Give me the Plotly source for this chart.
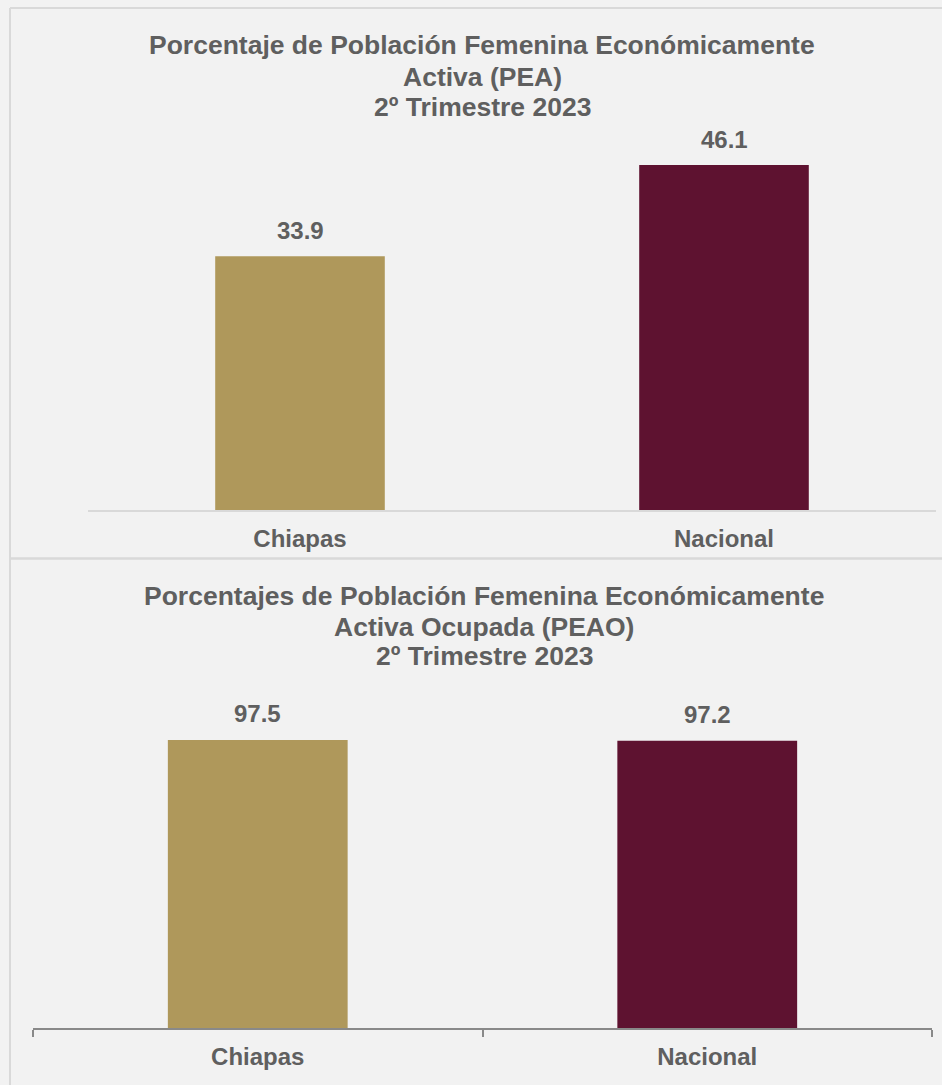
import plotly.graph_objects as go

W, H = 942, 1085

categories = ["Chiapas", "Nacional"]
pea_values = [33.9, 46.1]
peao_values = [97.5, 97.2]
colors = ["#AF985B", "#5E1230"]

title_top_lines = ["Porcentaje de Población Femenina Económicamente", "Activa (PEA)", "2º Trimestre 2023"]
title_bottom_lines = ["Porcentajes de Población Femenina Económicamente", "Activa Ocupada (PEAO)", "2º Trimestre 2023"]

TXT = "#5F5F5F"
FONT = "Liberation Sans, Arial, sans-serif"


def px(x):
    return x / W


def py(y):
    return 1 - y / H


fig = go.Figure()
fig.add_trace(go.Bar(x=categories, y=pea_values, marker_color=colors, width=0.4,
                     marker_line_width=0,
                     xaxis="x", yaxis="y", hoverinfo="x+y", showlegend=False))
fig.add_trace(go.Bar(x=categories, y=peao_values, marker_color=colors, width=0.4,
                     marker_line_width=0,
                     xaxis="x2", yaxis="y2", hoverinfo="x+y", showlegend=False))

label_font = dict(family=FONT, size=24, color=TXT, weight="bold")
annotations = []
for c, v in zip(categories, pea_values):
    annotations.append(dict(x=c, y=v, xref="x", yref="y", text=f"{v:.1f}", showarrow=False,
                            yanchor="bottom", yshift=10, font=label_font))
for c, v in zip(categories, peao_values):
    annotations.append(dict(x=c, y=v, xref="x2", yref="y2", text=f"{v:.1f}", showarrow=False,
                            yanchor="bottom", yshift=11, font=label_font))

title_font = dict(family=FONT, size=26.5, color=TXT, weight="bold")
for line, yc in zip(title_top_lines, [45, 77, 107]):
    annotations.append(dict(x=px(482), y=py(yc), xref="paper", yref="paper", text=line,
                            showarrow=False, xanchor="center", yanchor="middle", font=title_font))
for line, yc in zip(title_bottom_lines, [596, 627, 656]):
    annotations.append(dict(x=px(484), y=py(yc), xref="paper", yref="paper", text=line,
                            showarrow=False, xanchor="center", yanchor="middle", font=title_font))

shapes = [
    dict(type="line", xref="paper", yref="paper", x0=px(10), x1=1, y0=py(8), y1=py(8),
         line=dict(color="#D9D9D9", width=2)),
    dict(type="line", xref="paper", yref="paper", x0=px(10), x1=px(10), y0=py(8), y1=0,
         line=dict(color="#D9D9D9", width=2)),
    dict(type="line", xref="paper", yref="paper", x0=px(10), x1=1, y0=py(558.5), y1=py(558.5),
         line=dict(color="#D9D9D9", width=2.5)),
]

tickfont = dict(family=FONT, size=24, color=TXT, weight="bold")

top_range = 50
bot_range = 120
fig.update_layout(
    width=W, height=H,
    margin=dict(l=0, r=0, t=0, b=0),
    paper_bgcolor="#F2F2F2", plot_bgcolor="rgba(0,0,0,0)",
    annotations=annotations,
    shapes=shapes,
    xaxis=dict(domain=[px(88), px(936)], anchor="y", showline=True, linecolor="#D9D9D9",
               linewidth=2, ticks="", tickfont=tickfont, ticklabelstandoff=6,
               showgrid=False, fixedrange=True),
    yaxis=dict(domain=[py(510), py(510 - top_range * 7.485)], range=[0, top_range], visible=False,
               showgrid=False, fixedrange=True),
    xaxis2=dict(domain=[px(33), px(932)], anchor="y2", showline=True, linecolor="#898989",
                linewidth=2, ticks="outside", ticklen=7, tickwidth=2, tickcolor="#898989",
                tickson="boundaries", tickfont=tickfont, ticklabelstandoff=6,
                showgrid=False, fixedrange=True),
    yaxis2=dict(domain=[py(1028), py(1028 - bot_range * 2.954)], range=[0, bot_range], visible=False,
                showgrid=False, fixedrange=True),
)

fig.write_html(
    "out.html",
    config={"displayModeBar": False},
    post_script="document.body.style.margin='0';document.body.style.backgroundColor='#F2F2F2';",
)
